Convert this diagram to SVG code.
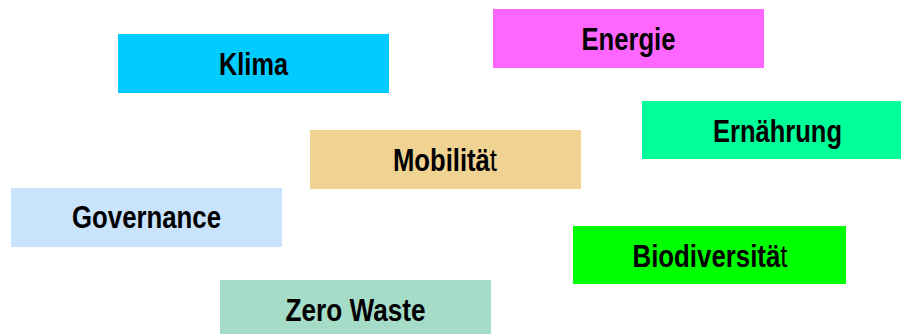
<svg xmlns="http://www.w3.org/2000/svg" width="901" height="334" viewBox="0 0 901 334">
<style>
text{font-family:"Liberation Sans",Arial,sans-serif;font-size:31px;font-weight:bold;fill:#000;text-anchor:middle}
.n{font-weight:normal}
</style>
<rect width="901" height="334" fill="#fff"/>
<g id="klima"><rect x="118" y="34" width="271" height="59" fill="#00CCFF"/><text x="253.5" y="74.5" textLength="69" lengthAdjust="spacingAndGlyphs">Klima</text></g>
<g id="energie"><rect x="493" y="9" width="271" height="59" fill="#FF66FF"/><text x="628.5" y="49.5" textLength="94" lengthAdjust="spacingAndGlyphs">Energie</text></g>
<g id="ernaehrung"><rect x="642" y="101" width="271" height="58" fill="#00FF99"/><text x="777.5" y="141.5" textLength="129" lengthAdjust="spacingAndGlyphs">Ernährung</text></g>
<g id="mobilitaet"><rect x="310" y="130" width="271" height="59" fill="#F0D292"/><text x="445" y="170.5" textLength="104" lengthAdjust="spacingAndGlyphs">Mobilitä<tspan class="n">t</tspan></text></g>
<g id="governance"><rect x="11" y="188" width="271" height="59" fill="#C9E3FC"/><text x="146.5" y="228" textLength="149" lengthAdjust="spacingAndGlyphs">Governance</text></g>
<g id="biodiversitaet"><rect x="573" y="226" width="273" height="58" fill="#00FF00"/><text x="710" y="266.5" textLength="155" lengthAdjust="spacingAndGlyphs">Biodiversitä<tspan class="n">t</tspan></text></g>
<g id="zerowaste"><rect x="220" y="280" width="271" height="59" fill="#A5DCC8"/><text x="355.5" y="320.5" textLength="140" lengthAdjust="spacingAndGlyphs">Zero Waste</text></g>
<g id="connectors"></g>
</svg>
